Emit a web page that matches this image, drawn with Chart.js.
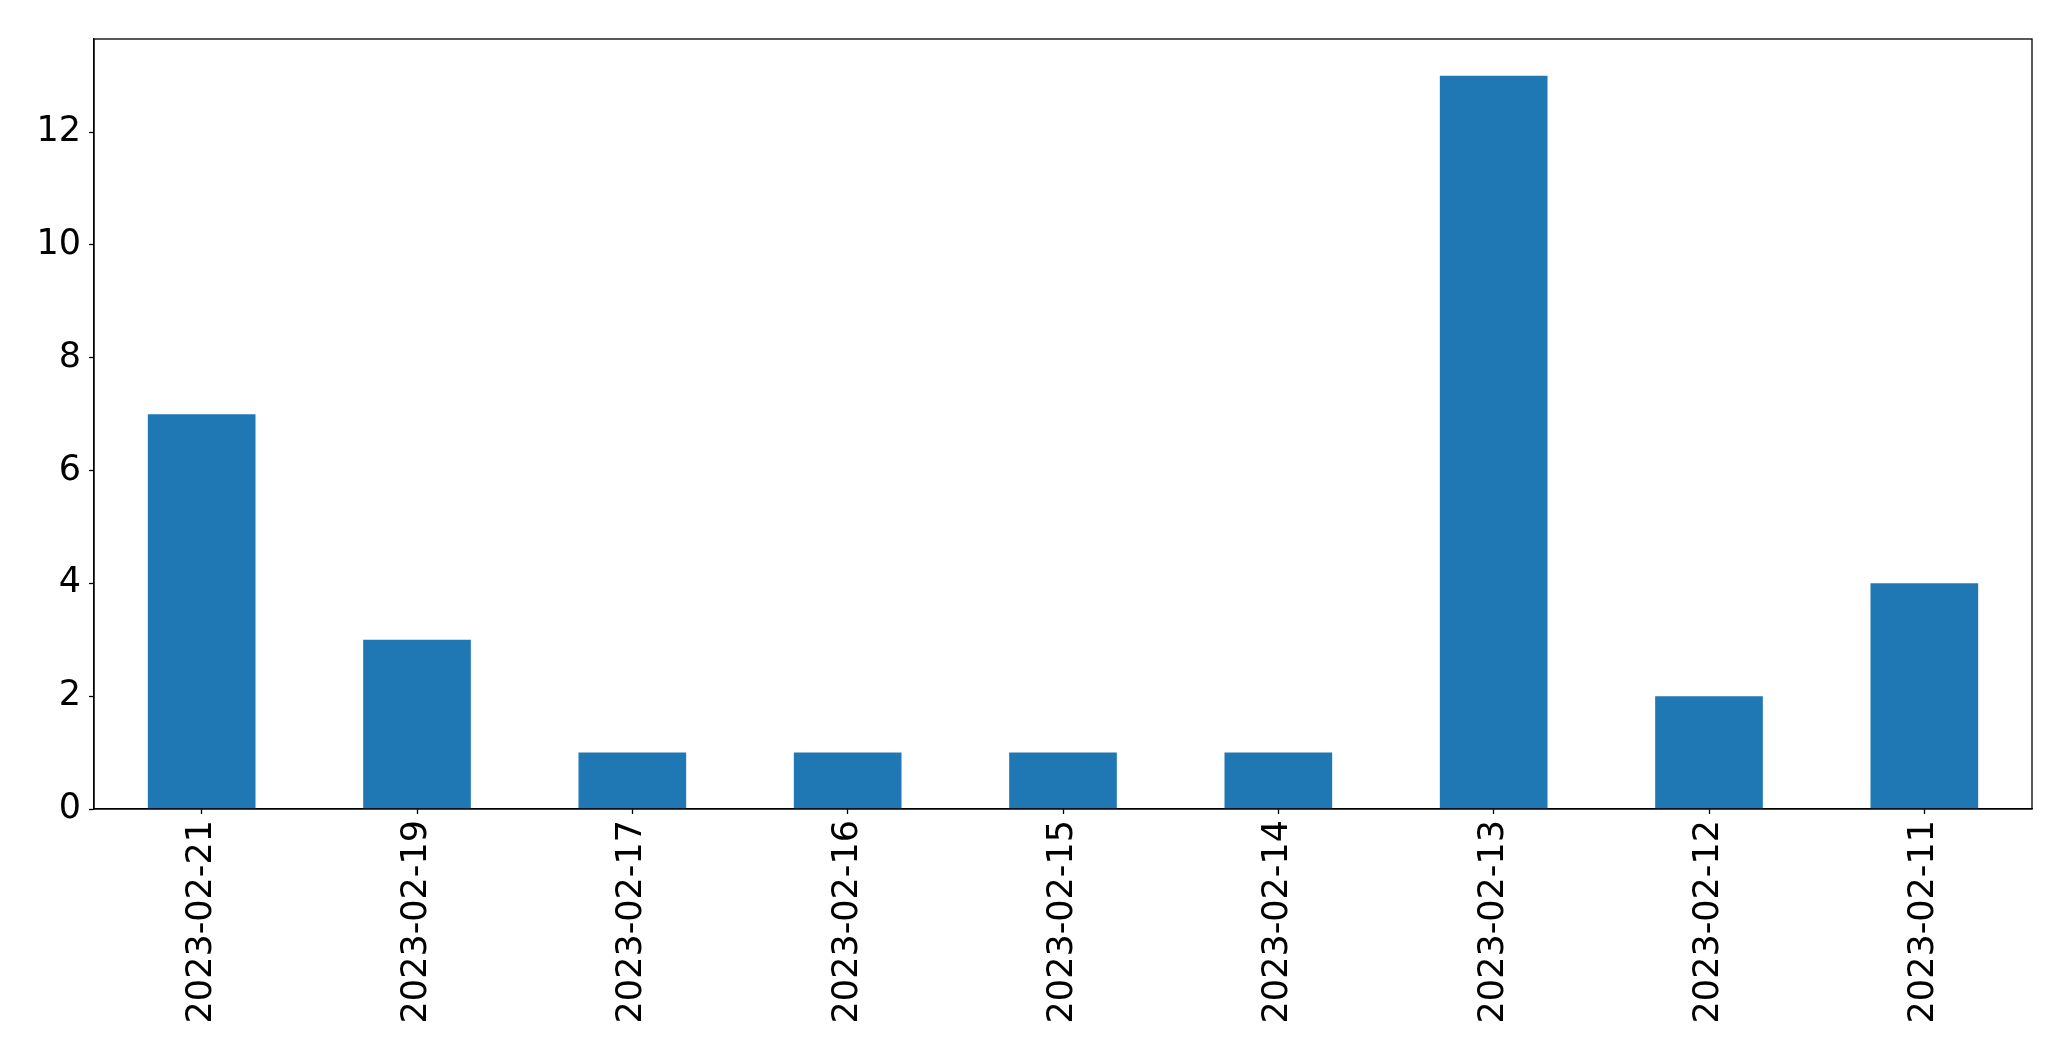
<!DOCTYPE html>
<html>
<head>
<meta charset="utf-8">
<script src="https://cdn.jsdelivr.net/npm/chart.js@4"></script>
<style>
  html, body { margin: 0; padding: 0; background: #fff; }
  #wrap { width: 2071px; height: 1061px; }
</style>
</head>
<body>
<div id="wrap"><canvas id="grafico"></canvas></div>
<script>
// datos
const fechas = ['2023-02-21','2023-02-19','2023-02-17','2023-02-16','2023-02-15','2023-02-14','2023-02-13','2023-02-12','2023-02-11'];
const cantidades = [7, 3, 1, 1, 1, 1, 13, 2, 4];
const ejeYMax = 13.65;
const ejeYPaso = 2;

// marco negro alrededor del area de dibujo
const marco = {
    id: 'marco',
    afterDraw(chart){
        const {ctx, chartArea: a} = chart;
        ctx.save();
        ctx.strokeStyle = '#000';
        ctx.lineWidth = 1.3;
        ctx.strokeRect(a.left, a.top, a.right - a.left, a.bottom - a.top);
        ctx.restore();
    }
};

const fuente = { family: 'DejaVu Sans', size: 35 };

const config = {
    type: 'bar',
    data: {
        labels: fechas,
        datasets: [{
            data: cantidades,
            backgroundColor: '#1f77b4',
            borderWidth: 0,
            barPercentage: 0.5,
            categoryPercentage: 1
        }]
    },
    options: {
        responsive: true,
        maintainAspectRatio: false,
        animation: false,
        layout: { padding: { top: 39, right: 39, left: 0, bottom: 0 } },
        plugins: {
            legend: { display: false },
            tooltip: { enabled: false }
        },
        scales: {
            x: {
                offset: true,
                grid: { offset: false, drawOnChartArea: false, drawTicks: true, tickLength: 5, tickColor: '#000', tickWidth: 1.3 },
                border: { display: true, color: '#000', width: 1.3 },
                ticks: { color: '#000', font: fuente, minRotation: 90, maxRotation: 90, padding: 6, autoSkip: false },
                afterFit: (s) => { s.height = 252; }
            },
            y: {
                min: 0,
                max: ejeYMax,
                grid: { drawOnChartArea: false, drawTicks: true, tickLength: 5, tickColor: '#000', tickWidth: 1.3 },
                border: { display: true, color: '#000', width: 1.3 },
                ticks: { color: '#000', font: fuente, stepSize: ejeYPaso, includeBounds: false, padding: 8 },
                afterFit: (s) => { s.width = 94; }
            }
        }
    },
    plugins: [marco]
};

const ctx = document.getElementById('grafico');
const miGrafico = new Chart(ctx, config);
</script>
</body>
</html>
